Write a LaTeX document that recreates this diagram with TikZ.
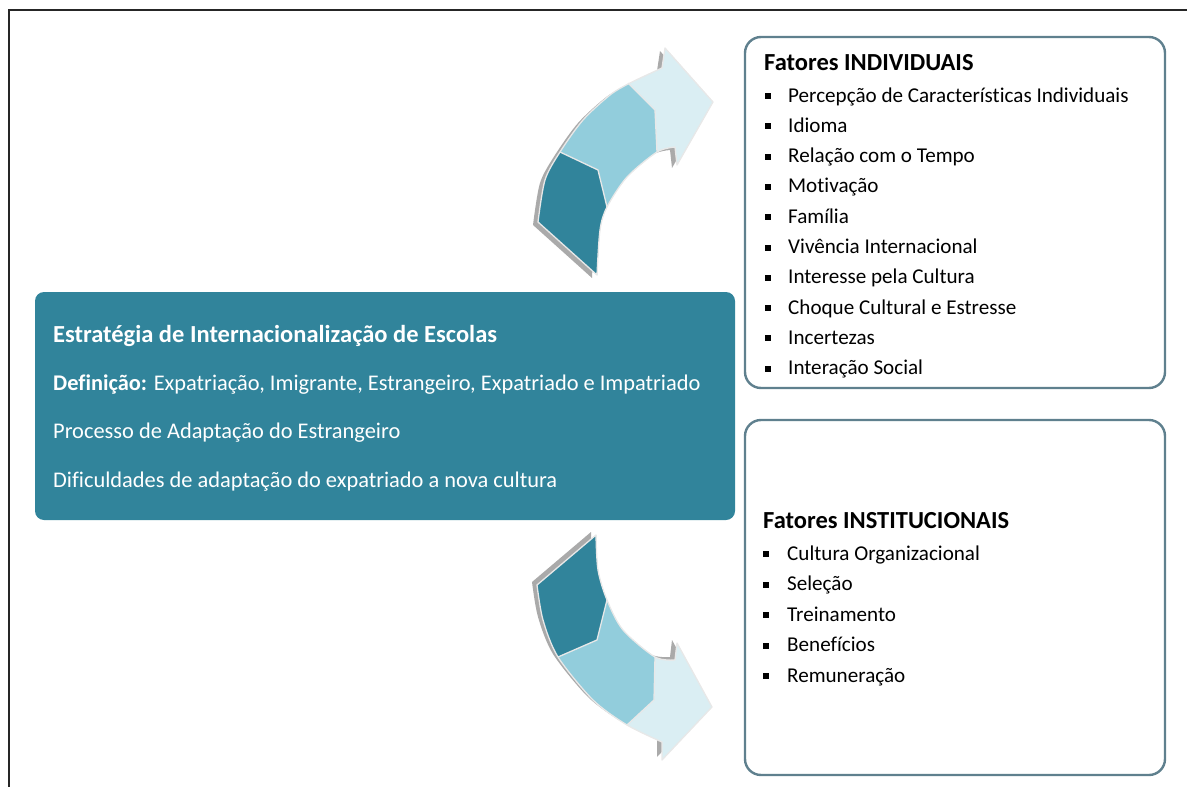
\documentclass[tikz,border=0pt]{standalone}
\usepackage{fontspec}
\setmainfont{Carlito}[Ligatures={NoCommon,NoRequired,NoContextual}]
\definecolor{teal1}{RGB}{49,132,155}
\definecolor{teal2}{RGB}{146,205,220}
\definecolor{teal3}{RGB}{218,238,243}
\definecolor{side3d}{RGB}{170,170,170}
\definecolor{rim}{RGB}{232,232,232}
\definecolor{boxline}{RGB}{95,128,142}
\begin{document}
\begin{tikzpicture}[x=1pt,y=-1pt,
  mainbox/.style={fill=teal1, rounded corners=9pt, minimum width=700pt, minimum height=228pt, inner sep=0pt},
  sidebox/.style={draw=boxline, line width=2.4pt, fill=white, rounded corners=16pt, minimum width=420pt, inner sep=0pt},
  maintxt/.style={anchor=base west, inner sep=0pt, text=white, font=\fontsize{22.4}{26}\selectfont},
  headtxt/.style={anchor=base west, inner sep=0pt, font=\bfseries\fontsize{24.5}{28}\selectfont},
  item/.style={anchor=base west, inner sep=0pt, font=\fontsize{21.1}{24}\selectfont},
  bul/.style={fill=black, minimum size=6pt, inner sep=0pt},
  edge/.style={draw=rim, line width=1.3pt, line join=round}]
\useasboundingbox (0,0) rectangle (1187,787);
% frame
\draw[line width=1.8pt, black!85] (9,787) -- (9,10) -- (1187,10);

% upper curved arrow
\def\upshape{(538,222) -- plot[smooth] coordinates {(538,222) (545,180) (560,152) (583,120) (610,95) (630,83) (662,68)} -- (665,48) -- (713,102) -- (677,165) -- (675,147) -- plot[smooth] coordinates {(675,147) (657,152) (627,177) (607,207) (600,230) (597,275)} -- cycle}
\fill[side3d, shift={(-5,3)}] \upshape;
\fill[teal3] \upshape;
\begin{scope}
  \clip \upshape;
  \fill[teal1] (545,130) -- (560,152) -- (598,170) -- (607,207) -- (640,215) -- (640,320) -- (480,320) -- (480,130) -- cycle;
  \fill[teal2] (560,152) -- (598,170) -- (607,207) -- (640,200) -- (657,152) -- (655,110) -- (628,83) -- (615,55) -- (540,100) -- (530,150) -- cycle;
\end{scope}
\draw[edge] \upshape;
\draw[edge] (560,152) -- (598,170) -- (607,207);
\draw[edge] (628,83) -- (655,110) -- (657,152);

% lower curved arrow
\def\downshape{(537,585) -- plot[smooth] coordinates {(537,585) (543,620) (558,657) (593,700) (627,725) (662,742)} -- (662,760) -- (712,707) -- (677,643) -- (675,660) -- plot[smooth] coordinates {(675,660) (655,657) (623,630) (607,600) (598,570) (596,535)} -- cycle}
\fill[side3d, shift={(-5,-3)}] \downshape;
\fill[teal3] \downshape;
\begin{scope}
  \clip \downshape;
  \fill[teal1] (540,670) -- (558,657) -- (597,640) -- (607,600) -- (640,600) -- (640,500) -- (480,500) -- (480,670) -- cycle;
  \fill[teal2] (558,657) -- (597,640) -- (607,600) -- (640,620) -- (655,657) -- (654,700) -- (627,725) -- (620,755) -- (540,700) -- (540,670) -- cycle;
\end{scope}
\draw[edge] \downshape;
\draw[edge] (558,657) -- (597,640) -- (607,600);
\draw[edge] (627,725) -- (654,700) -- (655,657);

% main box
\node[mainbox] (main) at (385,406) {};
\node[maintxt, font=\bfseries\fontsize{24.5}{28}\selectfont] (m1) at (53,342) {Estratégia de Internacionalização de Escolas};
\node[maintxt] (m2) at (53,390) {\textbf{Definição:} Expatriação, Imigrante, Estrangeiro, Expatriado e Impatriado};
\node[maintxt] (m3) at (53,438) {Processo de Adaptação do Estrangeiro};
\node[maintxt] (m4) at (53,487) {Dificuldades de adaptação do expatriado a nova cultura};

% individual factors
\node[sidebox, minimum height=351pt] (ind) at (955,212.5) {};
\node[headtxt] (indh) at (764,70) {Fatores INDIVIDUAIS};
\foreach \t [count=\i] in {Percepção de Características Individuais, Idioma, Relação com o Tempo, Motivação, Família, Vivência Internacional, Interesse pela Cultura, Choque Cultural e Estresse, Incertezas, Interação Social} {
  \pgfmathsetmacro\yb{102+30.3*(\i-1)}
  \node[item] (ia\i) at (788,\yb) {\t};
  \node[bul] (ib\i) at (768,\yb-6) {};
}

% institutional factors
\node[sidebox, minimum height=355pt] (inst) at (955,597.5) {};
\node[headtxt] (insth) at (763,528) {Fatores INSTITUCIONAIS};
\foreach \t [count=\i] in {Cultura Organizacional, Seleção, Treinamento, Benefícios, Remuneração} {
  \pgfmathsetmacro\yb{560+30.5*(\i-1)}
  \node[item] (sa\i) at (787,\yb) {\t};
  \node[bul] (sb\i) at (766,\yb-6) {};
}
\end{tikzpicture}
\end{document}
